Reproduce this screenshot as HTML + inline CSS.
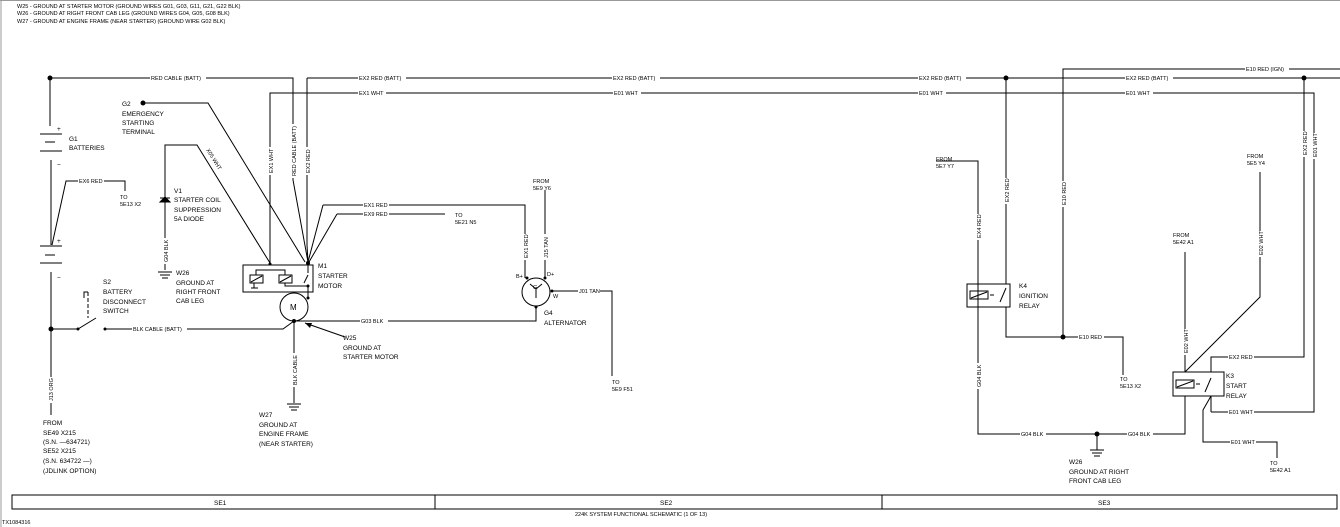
<!DOCTYPE html>
<html><head><meta charset="utf-8"><style>
html,body{margin:0;padding:0;background:#fff;}
svg{display:block;}
text{font-family:"Liberation Sans",sans-serif;font-size:6.5px;fill:#000;}
.s{font-size:5.5px;}
</style></head><body>
<svg width="1340" height="527" viewBox="0 0 1340 527" xmlns="http://www.w3.org/2000/svg">
<rect x="0" y="0" width="1340" height="527" fill="#fff"/>
<line x1="0" y1="0.5" x2="1340" y2="0.5" stroke="#999" stroke-width="1"/>
<line x1="1" y1="0" x2="1" y2="527" stroke="#999" stroke-width="1"/>
<g class="s">
<text x="17" y="8" class="s">W25 - GROUND AT STARTER MOTOR (GROUND WIRES G01, G03, G11, G21, G22 BLK)</text>
<text x="17" y="15" class="s">W26 - GROUND AT RIGHT FRONT CAB LEG (GROUND WIRES G04, G05, G08 BLK)</text>
<text x="17" y="23" class="s">W27 - GROUND AT ENGINE FRAME (NEAR STARTER) (GROUND WIRE G02 BLK)</text>
</g>
<g stroke="#000" stroke-width="1" fill="none">
<polyline points="50,78 293,78 293,180 308,262"/>
<line x1="307" y1="78" x2="1340" y2="78"/>
<polyline points="308,262 307,245 307,78"/>
<polyline points="270,263 270,93 1314,93 1314,412 1211,412"/>
<polyline points="1063,337 1063,69 1340,69"/>
<line x1="50" y1="78" x2="50" y2="126"/>
<line x1="40" y1="134" x2="62" y2="134"/>
<line x1="45" y1="142" x2="55" y2="142"/>
<line x1="40" y1="151" x2="62" y2="151"/>
<line x1="51" y1="160" x2="51" y2="245"/>
<line x1="40" y1="246" x2="62" y2="246"/>
<line x1="45" y1="255" x2="55" y2="255"/>
<line x1="40" y1="263" x2="62" y2="263"/>
<line x1="51" y1="272" x2="51" y2="415"/>
<polyline points="52,245 66,181 125,181 125,191"/>
<polyline points="51,329 78,329 96,318"/>
<polyline points="105,329 283,329 294,321"/>
<polyline points="88,292 84,292 84,298" />
<line x1="88" y1="292" x2="88" y2="318" stroke-dasharray="4,2"/>
<polyline points="143,103 208,103 305,262"/>
<polyline points="165,270 165,145 197,145 270,263"/>
<line x1="160" y1="198" x2="170" y2="198"/>
<polygon points="160,202 170,202 165,197" fill="#000"/>
<line x1="158" y1="272" x2="172" y2="272"/><line x1="160" y1="275" x2="170" y2="275"/><line x1="162" y1="278" x2="168" y2="278"/>
<rect x="243" y="265" width="70" height="27"/>
<polyline points="256,275 256,270 285,270 285,275"/>
<rect x="250" y="275" width="13" height="8"/><line x1="251" y1="282" x2="262" y2="276"/>
<rect x="279" y="275" width="13" height="8"/><line x1="280" y1="282" x2="291" y2="276"/>
<polyline points="285,283 285,286 308,286"/>
<line x1="254" y1="283" x2="254" y2="288"/><line x1="251" y1="288" x2="258" y2="288"/>
<line x1="308" y1="262" x2="308" y2="273"/><line x1="308" y1="275" x2="304" y2="283"/>
<line x1="308" y1="286" x2="308" y2="299"/>
<polyline points="323,205 525,205 525,278"/>
<line x1="323" y1="205" x2="308" y2="262"/>
<polyline points="337,214 445,214"/>
<line x1="337" y1="214" x2="309" y2="262"/>
<circle cx="294" cy="307" r="14"/>
<polyline points="294,321 536,321 536,307"/>
<line x1="294" y1="321" x2="294" y2="403"/>
<line x1="287" y1="404" x2="301" y2="404"/><line x1="289" y1="407" x2="299" y2="407"/><line x1="291" y1="410" x2="297" y2="410"/>
<line x1="345" y1="337" x2="305" y2="323"/>
<circle cx="536" cy="292" r="14"/>
<polyline points="545,278 545,190"/>
<polyline points="552,291 612,291 612,376"/>
<polyline points="536,289 536,298"/><polyline points="530,284 536,289 542,284"/>
<rect x="967" y="284" width="43" height="23"/>
<rect x="970" y="291" width="18" height="8"/><line x1="971" y1="298" x2="987" y2="292"/>
<line x1="990" y1="295" x2="994" y2="295"/><line x1="1006" y1="288" x2="1000" y2="302"/>
<polyline points="936,161 978,161 978,434 1185,434 1185,396"/>
<line x1="1006" y1="78" x2="1006" y2="284"/>
<polyline points="1006,307 1006,337 1123,337 1123,375"/>
<rect x="1173" y="372" width="51" height="24"/>
<rect x="1176" y="380" width="18" height="8"/><line x1="1177" y1="387" x2="1193" y2="381"/>
<line x1="1196" y1="384" x2="1200" y2="384"/><line x1="1211" y1="378" x2="1205" y2="392"/>
<line x1="1185" y1="252" x2="1185" y2="372"/>
<polyline points="1260,172 1260,297 1185,372"/>
<polyline points="1304,78 1304,357 1211,357 1211,372"/>
<polyline points="1211,396 1211,412"/>
<polyline points="1211,396 1203,410 1203,442 1277,442 1277,458"/>
<line x1="1090" y1="450" x2="1104" y2="450"/><line x1="1092" y1="453" x2="1102" y2="453"/><line x1="1094" y1="456" x2="1100" y2="456"/>
<line x1="1097" y1="434" x2="1097" y2="450"/>
<rect x="12" y="495" width="1325" height="14"/>
<line x1="435" y1="495" x2="435" y2="509"/><line x1="882" y1="495" x2="882" y2="509"/>
</g>
<g fill="#000">
<circle cx="50" cy="78" r="2.5"/><circle cx="143" cy="103" r="2.5"/><circle cx="51" cy="329" r="2.5"/>
<circle cx="78" cy="329" r="1.5"/><circle cx="105" cy="329" r="1.5"/>
<circle cx="270" cy="264" r="1.5"/><circle cx="308" cy="263" r="2"/><circle cx="308" cy="286" r="1.5"/><circle cx="308" cy="298" r="1.5"/><circle cx="294" cy="321" r="2"/>
<circle cx="527" cy="278" r="1.5"/><circle cx="545" cy="278" r="1.5"/><circle cx="552" cy="291" r="1.5"/><circle cx="536" cy="307" r="1.5"/>
<circle cx="1006" cy="78" r="2.5"/><circle cx="1304" cy="78" r="2.5"/><circle cx="1063" cy="337" r="2.5"/><circle cx="1097" cy="434" r="2.5"/>
<polygon points="305,323 312,323 310,328"/>
</g>
<g>
<rect x="150" y="74" width="56" height="7" fill="#fff"/><text x="151" y="80" class="s">RED CABLE (BATT)</text>
<rect x="358" y="74" width="48" height="7" fill="#fff"/><text x="359" y="80" class="s">EX2 RED (BATT)</text>
<rect x="612" y="74" width="48" height="7" fill="#fff"/><text x="613" y="80" class="s">EX2 RED (BATT)</text>
<rect x="918" y="74" width="48" height="7" fill="#fff"/><text x="919" y="80" class="s">EX2 RED (BATT)</text>
<rect x="1125" y="74" width="48" height="7" fill="#fff"/><text x="1126" y="80" class="s">EX2 RED (BATT)</text>
<rect x="1245" y="65" width="44" height="7" fill="#fff"/><text x="1246" y="71" class="s">E10 RED (IGN)</text>
<rect x="358" y="89" width="28" height="7" fill="#fff"/><text x="359" y="95" class="s">EX1 WHT</text>
<rect x="613" y="89" width="28" height="7" fill="#fff"/><text x="614" y="95" class="s">E01 WHT</text>
<rect x="918" y="89" width="28" height="7" fill="#fff"/><text x="919" y="95" class="s">E01 WHT</text>
<rect x="1125" y="89" width="28" height="7" fill="#fff"/><text x="1126" y="95" class="s">E01 WHT</text>
<rect x="78" y="177" width="26" height="7" fill="#fff"/><text x="79" y="183" class="s">EX6 RED</text>
<rect x="363" y="201" width="26" height="7" fill="#fff"/><text x="364" y="207" class="s">EX1 RED</text>
<rect x="363" y="210" width="26" height="7" fill="#fff"/><text x="364" y="216" class="s">EX9 RED</text>
<rect x="132" y="325" width="55" height="7" fill="#fff"/><text x="133" y="331" class="s">BLK CABLE (BATT)</text>
<rect x="360" y="317" width="28" height="7" fill="#fff"/><text x="361" y="323" class="s">G03 BLK</text>
<rect x="578" y="287" width="22" height="7" fill="#fff"/><text x="579" y="293" class="s">J01 TAN</text>
<rect x="1078" y="333" width="26" height="7" fill="#fff"/><text x="1079" y="339" class="s">E10 RED</text>
<rect x="1020" y="430" width="26" height="7" fill="#fff"/><text x="1021" y="436" class="s">G04 BLK</text>
<rect x="1127" y="430" width="26" height="7" fill="#fff"/><text x="1128" y="436" class="s">G04 BLK</text>
<rect x="1228" y="353" width="26" height="7" fill="#fff"/><text x="1229" y="359" class="s">EX2 RED</text>
<rect x="1228" y="408" width="26" height="7" fill="#fff"/><text x="1229" y="414" class="s">E01 WHT</text>
<rect x="1230" y="438" width="26" height="7" fill="#fff"/><text x="1231" y="444" class="s">E01 WHT</text>
</g>
<g class="s">
<g transform="translate(273,173) rotate(-90)"><rect x="-2" y="-6" width="28" height="7" fill="#fff"/><text x="0" y="0" class="s">EX1 WHT</text></g>
<g transform="translate(296,176) rotate(-90)"><rect x="-2" y="-6" width="54" height="7" fill="#fff"/><text x="0" y="0" class="s">RED CABLE (BATT)</text></g>
<g transform="translate(310,173) rotate(-90)"><rect x="-2" y="-6" width="28" height="7" fill="#fff"/><text x="0" y="0" class="s">EX2 RED</text></g>
<g transform="translate(206,150) rotate(58)"><rect x="-2" y="-6" width="26" height="7" fill="#fff"/><text x="0" y="0" class="s">X05 WHT</text></g>
<g transform="translate(168,262) rotate(-90)"><rect x="-2" y="-6" width="26" height="7" fill="#fff"/><text x="0" y="0" class="s">G04 BLK</text></g>
<g transform="translate(53,401) rotate(-90)"><rect x="-2" y="-6" width="26" height="7" fill="#fff"/><text x="0" y="0" class="s">J13 ORG</text></g>
<g transform="translate(297,385) rotate(-90)"><rect x="-2" y="-6" width="34" height="7" fill="#fff"/><text x="0" y="0" class="s">BLK CABLE</text></g>
<g transform="translate(528,258) rotate(-90)"><rect x="-2" y="-6" width="26" height="7" fill="#fff"/><text x="0" y="0" class="s">EX1 RED</text></g>
<g transform="translate(548,258) rotate(-90)"><rect x="-2" y="-6" width="26" height="7" fill="#fff"/><text x="0" y="0" class="s">J15 TAN</text></g>
<g transform="translate(981,238) rotate(-90)"><rect x="-2" y="-6" width="26" height="7" fill="#fff"/><text x="0" y="0" class="s">EX4 RED</text></g>
<g transform="translate(1009,202) rotate(-90)"><rect x="-2" y="-6" width="26" height="7" fill="#fff"/><text x="0" y="0" class="s">EX2 RED</text></g>
<g transform="translate(1066,205) rotate(-90)"><rect x="-2" y="-6" width="26" height="7" fill="#fff"/><text x="0" y="0" class="s">E10 RED</text></g>
<g transform="translate(981,387) rotate(-90)"><rect x="-2" y="-6" width="26" height="7" fill="#fff"/><text x="0" y="0" class="s">G04 BLK</text></g>
<g transform="translate(1188,353) rotate(-90)"><rect x="-2" y="-6" width="26" height="7" fill="#fff"/><text x="0" y="0" class="s">E02 WHT</text></g>
<g transform="translate(1263,255) rotate(-90)"><rect x="-2" y="-6" width="26" height="7" fill="#fff"/><text x="0" y="0" class="s">E02 WHT</text></g>
<g transform="translate(1307,155) rotate(-90)"><rect x="-2" y="-6" width="26" height="7" fill="#fff"/><text x="0" y="0" class="s">EX2 RED</text></g>
<g transform="translate(1317,157) rotate(-90)"><rect x="-2" y="-6" width="26" height="7" fill="#fff"/><text x="0" y="0" class="s">E01 WHT</text></g>
</g>
<g>
<text x="57" y="131">+</text><text x="57" y="167">−</text><text x="57" y="243">+</text><text x="57" y="280">−</text>
<text x="69" y="141">G1</text><text x="69" y="150">BATTERIES</text>
<text x="122" y="106">G2</text><text x="122" y="116">EMERGENCY</text><text x="122" y="125">STARTING</text><text x="122" y="134">TERMINAL</text>
<text x="120" y="199" class="s">TO</text><text x="120" y="206" class="s">5E13 X2</text>
<text x="174" y="193">V1</text><text x="174" y="202">STARTER COIL</text><text x="174" y="212">SUPPRESSION</text><text x="174" y="221">5A DIODE</text>
<text x="176" y="275">W26</text><text x="176" y="285">GROUND AT</text><text x="176" y="294">RIGHT FRONT</text><text x="176" y="303">CAB LEG</text>
<text x="103" y="284">S2</text><text x="103" y="294">BATTERY</text><text x="103" y="304">DISCONNECT</text><text x="103" y="313">SWITCH</text>
<text x="318" y="268">M1</text><text x="318" y="278">STARTER</text><text x="318" y="288">MOTOR</text>
<text x="290" y="310" style="font-size:8px">M</text>
<text x="343" y="340">W25</text><text x="343" y="350">GROUND AT</text><text x="343" y="359">STARTER MOTOR</text>
<text x="259" y="417">W27</text><text x="259" y="427">GROUND AT</text><text x="259" y="436">ENGINE FRAME</text><text x="259" y="446">(NEAR STARTER)</text>
<text x="43" y="425">FROM</text><text x="43" y="435">SE49 X215</text><text x="43" y="444">(S.N. —634721)</text><text x="43" y="453">SE52 X215</text><text x="43" y="463">(S.N. 634722 —)</text><text x="43" y="473">(JDLINK OPTION)</text>
<text x="455" y="217" class="s">TO</text><text x="455" y="224" class="s">5E21 N5</text>
<text x="533" y="183" class="s">FROM</text><text x="533" y="190" class="s">5E9 Y6</text>
<text x="516" y="278" class="s">B+</text><text x="547" y="276" class="s">D+</text><text x="553" y="298" class="s">W</text>
<text x="533" y="289" class="s">G</text>
<text x="544" y="315">G4</text><text x="544" y="325">ALTERNATOR</text>
<text x="612" y="384" class="s">TO</text><text x="612" y="391" class="s">5E9 F51</text>
<text x="936" y="161" class="s">FROM</text><text x="936" y="168" class="s">5E7 Y7</text>
<text x="1019" y="288">K4</text><text x="1019" y="298">IGNITION</text><text x="1019" y="308">RELAY</text>
<text x="1120" y="381" class="s">TO</text><text x="1120" y="388" class="s">5E13 X2</text>
<text x="1173" y="237" class="s">FROM</text><text x="1173" y="244" class="s">5E42 A1</text>
<text x="1247" y="158" class="s">FROM</text><text x="1247" y="165" class="s">5E5 Y4</text>
<text x="1226" y="378">K3</text><text x="1226" y="388">START</text><text x="1226" y="398">RELAY</text>
<text x="1270" y="465" class="s">TO</text><text x="1270" y="472" class="s">5E42 A1</text>
<text x="1069" y="464">W26</text><text x="1069" y="474">GROUND AT RIGHT</text><text x="1069" y="483">FRONT CAB LEG</text>
<text x="214" y="505">SE1</text><text x="660" y="505">SE2</text><text x="1098" y="505">SE3</text>
<text x="575" y="516" class="s">224K SYSTEM FUNCTIONAL SCHEMATIC (1 OF 13)</text>
<text x="2" y="524" class="s">TX1084316</text>
</g>
</svg>
</body></html>
